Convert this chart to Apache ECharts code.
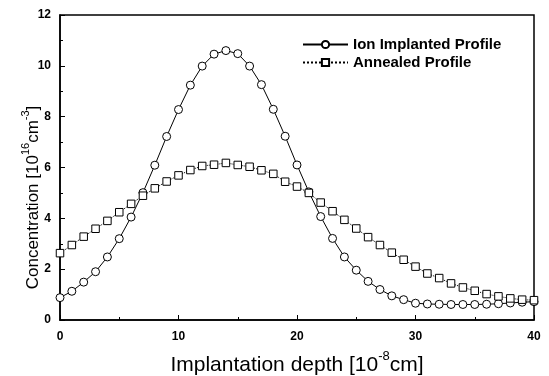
<!DOCTYPE html>
<html>
<head>
<meta charset="utf-8">
<script src="https://cdn.jsdelivr.net/npm/echarts@6/dist/echarts.min.js"></script>
<style>html,body{margin:0;padding:0;background:#fff;}#c{width:549px;height:376px;}</style>
</head>
<body>
<div id="c"></div>
<script>
const depth = [0,1,2,3,4,5,6,7,8,9,10,11,12,13,14,15,16,17,18,19,20,21,22,23,24,25,26,27,28,29,30,31,32,33,34,35,36,37,38,39,40];
const ionImplanted = [0.88,1.13,1.49,1.9,2.48,3.2,4.05,5.01,6.09,7.22,8.28,9.24,9.99,10.46,10.6,10.48,9.99,9.26,8.29,7.23,6.1,5.04,4.07,3.21,2.48,1.96,1.52,1.2,0.95,0.8,0.66,0.63,0.62,0.61,0.61,0.61,0.62,0.64,0.67,0.7,0.72];
const annealed = [2.63,2.95,3.28,3.59,3.9,4.24,4.57,4.89,5.18,5.45,5.69,5.9,6.06,6.11,6.18,6.1,6.03,5.89,5.75,5.44,5.25,5.0,4.62,4.28,3.94,3.6,3.26,2.95,2.65,2.37,2.1,1.83,1.65,1.44,1.28,1.15,1.02,0.93,0.85,0.8,0.78];
const yTicks = [0,2,4,6,8,10,12];
const xTicks = [0,10,20,30,40];

const font = 'Liberation Sans, Arial, sans-serif';
const chart = echarts.init(document.getElementById('c'));
chart.setOption({
  animation: false,
  backgroundColor: '#fff',
  grid: {left: 60, right: 15, top: 15, bottom: 56, show: true, borderColor: '#000', borderWidth: 1.5, outerBoundsMode: 'none', containLabel: false},
  legend: {
    left: 297, top: 32, orient: 'vertical', itemWidth: 45, itemHeight: 9, itemGap: 3,
    textStyle: {fontSize: 15, fontWeight: 'bold', fontFamily: font, color: '#000'},
    data: ['Ion Implanted Profile', 'Annealed Profile']
  },
  xAxis: {
    type: 'value', min: xTicks[0], max: xTicks[xTicks.length-1], interval: 10,
    name: '{n|Implantation depth [10}{s|-8}{n|cm]}',
    nameLocation: 'middle', nameGap: 30, nameMoveOverlap: false,
    nameTextStyle: {rich: {n: {fontSize: 21, fontFamily: font, color: '#000', lineHeight: 26, verticalAlign: 'bottom'}, s: {fontSize: 13, fontFamily: font, color: '#000', lineHeight: 26, verticalAlign: 'top'}}},
    axisLine: {lineStyle: {color: '#000', width: 1.5}},
    axisTick: {inside: true, length: 5, lineStyle: {color: '#000'}},
    minorTick: {show: true, splitNumber: 2, length: 3, lineStyle: {color: '#000'}},
    splitLine: {show: false},
    axisLabel: {fontSize: 12, fontWeight: 'bold', fontFamily: font, color: '#000', margin: 11}
  },
  yAxis: {
    type: 'value', min: yTicks[0], max: yTicks[yTicks.length-1], interval: 2,
    name: '{n|Concentration [10}{s|16}{n|cm}{s|-3}{n|]}',
    nameLocation: 'middle', nameGap: 18, nameRotate: 90, nameMoveOverlap: false,
    nameTextStyle: {padding: [0, 60, 0, 0], rich: {n: {fontSize: 17, fontFamily: font, color: '#000', lineHeight: 22, verticalAlign: 'bottom'}, s: {fontSize: 11, fontFamily: font, color: '#000', lineHeight: 22, verticalAlign: 'top'}}},
    axisLine: {show: true, lineStyle: {color: '#000', width: 1.5}},
    axisTick: {show: true, inside: true, length: 5, lineStyle: {color: '#000'}},
    minorTick: {show: true, splitNumber: 2, length: 3, lineStyle: {color: '#000'}},
    splitLine: {show: false},
    axisLabel: {fontSize: 12, fontWeight: 'bold', fontFamily: font, color: '#000', margin: 9}
  },
  series: [
    {
      name: 'Ion Implanted Profile', type: 'line',
      data: depth.map((d, i) => [d, ionImplanted[i]]),
      symbol: 'circle', symbolSize: 8, showSymbol: true,
      lineStyle: {color: '#000', width: 1},
      itemStyle: {color: '#fff', borderColor: '#000', borderWidth: 1}
    },
    {
      name: 'Annealed Profile', type: 'line',
      data: depth.map((d, i) => [d, annealed[i]]),
      symbol: 'rect', symbolSize: 7.5, showSymbol: true,
      lineStyle: {color: '#000', width: 1, type: 'dotted'},
      itemStyle: {color: '#fff', borderColor: '#000', borderWidth: 1}
    }
  ]
});
</script>
</body>
</html>
